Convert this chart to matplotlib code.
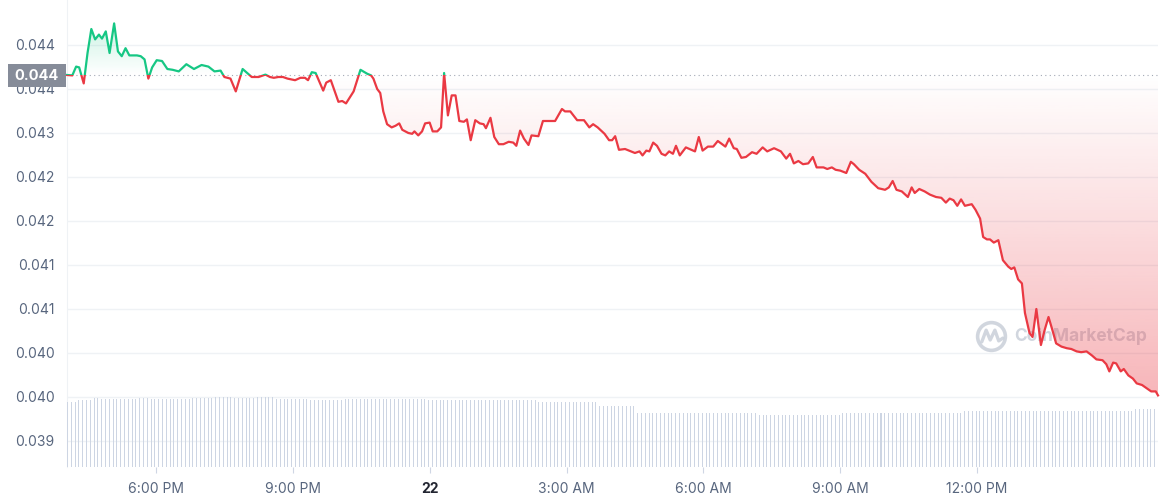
import matplotlib
matplotlib.use('Agg')
import matplotlib.pyplot as plt
import matplotlib.transforms as mtransforms
from matplotlib.patches import Rectangle
from matplotlib.path import Path
from matplotlib.ticker import FormatStrFormatter
import numpy as np

plt.rcParams['font.family'] = ['Inter', 'DejaVu Sans']

'''Data'''
# minutes after 16:00 on the 21st
minutes = [3, 10, 15, 19, 25, 30, 35, 40, 45, 49,
           54, 59, 65, 70, 75, 80, 85, 95, 100, 105,
           110, 115, 121, 128, 135, 142, 150, 160, 170, 180,
           189, 197, 205, 210, 218, 225, 234, 246, 255, 264,
           270, 275, 281, 287, 293, 303, 310, 316, 320, 325,
           330, 340, 344, 350, 360, 365, 370, 380, 389, 398,
           403, 406, 411, 415, 419, 424, 430, 435, 440, 444,
           452, 457, 460, 465, 470, 474, 480, 484, 490, 495,
           499, 504, 509, 514, 519, 525, 529, 534, 540, 546,
           551, 554, 560, 565, 571, 577, 584, 590, 594, 599,
           604, 610, 614, 623, 629, 645, 654, 658, 665, 674,
           683, 690, 695, 701, 710, 716, 720, 724, 729, 737,
           745, 750, 756, 760, 765, 769, 774, 779, 785, 790,
           795, 800, 804, 809, 817, 829, 834, 839, 846, 853,
           859, 869, 874, 880, 884, 890, 896, 904, 910, 918,
           924, 933, 942, 949, 954, 959, 965, 971, 978, 984,
           989, 998, 1003, 1009, 1014, 1020, 1028, 1034, 1038, 1045,
           1053, 1061, 1070, 1079, 1084, 1089, 1094, 1101, 1109, 1114,
           1118, 1124, 1131, 1138, 1146, 1153, 1159, 1164, 1169, 1174,
           1179, 1184, 1193, 1198, 1204, 1208, 1213, 1217, 1222, 1228,
           1234, 1241, 1245, 1249, 1254, 1259, 1263, 1269, 1273, 1278,
           1284, 1289, 1294, 1299, 1304, 1311, 1318, 1324, 1331, 1337,
           1344, 1351, 1357, 1365, 1370, 1374, 1379, 1383, 1389, 1393,
           1399, 1405, 1410, 1417, 1423, 1429, 1435, 1438]

prices = [0.043725, 0.04372, 0.04383, 0.04382, 0.04362, 0.04400, 0.04430, 0.04417, 0.04423, 0.04418,
          0.04427, 0.04400, 0.04437, 0.04402, 0.04396, 0.04406, 0.04397, 0.04397, 0.04396, 0.04392,
          0.04368, 0.04382, 0.04391, 0.04390, 0.04380, 0.04379, 0.04377, 0.04386, 0.04380, 0.04385,
          0.04383, 0.04377, 0.04378, 0.04370, 0.04368, 0.04352, 0.04380, 0.04370, 0.04370, 0.04373,
          0.04370, 0.04369, 0.04370, 0.04370, 0.04368, 0.04366, 0.04369, 0.04369, 0.04366, 0.04376,
          0.04375, 0.04353, 0.04363, 0.04366, 0.04339, 0.04340, 0.04337, 0.04352, 0.04379, 0.04374,
          0.04372, 0.04368, 0.04355, 0.04350, 0.04327, 0.04311, 0.04307, 0.04309, 0.04312, 0.04304,
          0.04300, 0.04299, 0.04302, 0.04297, 0.04302, 0.04312, 0.04313, 0.04302, 0.04302, 0.04307,
          0.04375, 0.04322, 0.04347, 0.04347, 0.04315, 0.04314, 0.04317, 0.04291, 0.04316, 0.04312,
          0.04311, 0.04306, 0.04319, 0.04295, 0.04286, 0.04286, 0.04289, 0.04288, 0.04284, 0.04303,
          0.04293, 0.04285, 0.04297, 0.04296, 0.04315, 0.04315, 0.04330, 0.04327, 0.04327, 0.04316,
          0.04316, 0.04307, 0.04311, 0.04307, 0.04299, 0.04291, 0.04291, 0.04296, 0.04279, 0.04280,
          0.04277, 0.04275, 0.04277, 0.04272, 0.04278, 0.04277, 0.04288, 0.04284, 0.04274, 0.04272,
          0.04277, 0.04274, 0.04284, 0.04272, 0.04282, 0.04277, 0.04295, 0.04278, 0.04283, 0.04283,
          0.04290, 0.04283, 0.04293, 0.04281, 0.04280, 0.04269, 0.04270, 0.04276, 0.04274, 0.04282,
          0.04277, 0.04281, 0.04277, 0.04268, 0.04274, 0.04262, 0.04265, 0.04261, 0.04262, 0.04270,
          0.04257, 0.04257, 0.04255, 0.04257, 0.04254, 0.04253, 0.04250, 0.04264, 0.04261, 0.04254,
          0.04249, 0.04239, 0.04231, 0.04229, 0.04232, 0.04240, 0.04229, 0.04227, 0.04220, 0.04232,
          0.04225, 0.04230, 0.04227, 0.04223, 0.04220, 0.04219, 0.04213, 0.04218, 0.04216, 0.04209,
          0.04217, 0.04209, 0.04211, 0.04204, 0.04193, 0.04170, 0.04167, 0.04167, 0.04163, 0.04166,
          0.04141, 0.04133, 0.04130, 0.04132, 0.04117, 0.04112, 0.04075, 0.04050, 0.04045, 0.04080,
          0.04035, 0.04054, 0.04070, 0.04054, 0.04037, 0.04033, 0.04031, 0.04030, 0.04027, 0.04026,
          0.04027, 0.04022, 0.04017, 0.04016, 0.04011, 0.04002, 0.04013, 0.04012, 0.04002, 0.04005,
          0.03997, 0.03993, 0.03987, 0.03985, 0.03981, 0.03977, 0.03977, 0.03972]

# 24h volume, one bar every 5 minutes (runs of equal height)
vol_levels = [6.5, 6.7, 6.9, 6.8, 6.9, 6.8, 6.9, 7.0, 6.9, 7.0, 6.8,
              6.7, 6.8, 6.7, 6.5, 6.1, 5.4, 5.2, 5.4, 5.6, 5.8]
vol_runs = [3, 4, 2, 10, 3, 11, 6, 5, 6, 5, 9,
            9, 22, 29, 16, 10, 32, 22, 32, 45, 7]

tick_hours = [18, 21, 24, 27, 30, 33, 36]
tick_labels = ['6:00 PM', '9:00 PM', '22', '3:00 AM', '6:00 AM', '9:00 AM', '12:00 PM']
price_ticks = [0.03915, 0.0397, 0.04025, 0.0408, 0.04135, 0.0419, 0.04245, 0.043, 0.04355, 0.0441]

GREEN = '#16c784'
RED = '#ea3943'
GREY = '#58667e'

t = 16 + np.array(minutes) / 60.0
p = np.array(prices)
ref = p[0]
volume = np.repeat(vol_levels, vol_runs)
vol_t = 16 + (minutes[0] + 5 * np.arange(len(volume))) / 60.0

ymin, ymax = 0.038825, 0.0446625
x0, x1 = t[0], t[-1]

'''Plot'''
fig = plt.figure(figsize=(11.61, 5.0), dpi=100)
rect = [67 / 1161, 33 / 500, 1091 / 1161, 467 / 500]
ax = fig.add_axes(rect)

# gradient fills between price and the opening price
poly = ax.fill_between(t, p, ref, facecolor='none', edgecolor='none')
clip = Path.make_compound_path(*poly.get_paths())

g = np.zeros((256, 1, 4))
g[:, 0, :3] = matplotlib.colors.to_rgb(GREEN)
g[:, 0, 3] = np.linspace(0.0, 0.22, 256)
im_g = ax.imshow(g, extent=[x0, x1, ref, p.max()], origin='lower', aspect='auto', zorder=1.5)
im_g.set_clip_path(clip, transform=ax.transData)

r = np.zeros((256, 1, 4))
r[:, 0, :3] = matplotlib.colors.to_rgb(RED)
r[:, 0, 3] = np.linspace(0.37, 0.0, 256)
im_r = ax.imshow(r, extent=[x0, x1, p.min(), ref], origin='lower', aspect='auto', zorder=1.5)
im_r.set_clip_path(clip, transform=ax.transData)

# line: green above the opening price, red below
up, = ax.plot(t, p, color=GREEN, lw=1.6, zorder=3, solid_joinstyle='round')
up.set_clip_path(Rectangle((x0 - 1, ref), x1 - x0 + 2, 1, transform=ax.transData))
down, = ax.plot(t, p, color=RED, lw=1.6, zorder=3, solid_joinstyle='round')
down.set_clip_path(Rectangle((x0 - 1, ref - 1), x1 - x0 + 2, 1, transform=ax.transData))

ax.axhline(ref, color='#a3a9b5', lw=0.8, ls=(0, (1, 3)), zorder=2)

# opening price label on the axis
trans = mtransforms.blended_transform_factory(ax.transAxes, ax.transData)
ax.add_patch(Rectangle((-0.0541, ref - 0.000148), 0.0532, 0.000288, transform=trans,
                       facecolor='#868c99', edgecolor='none', clip_on=False, zorder=5))
ax.text(-0.0275, ref - 0.00001, '%.3f' % ref, transform=trans, ha='center', va='center',
        color='white', fontsize=10.5, fontweight='bold', zorder=6, clip_on=False)

# watermark
wm = '#c9cfd9'
ax.text(0.8685, 0.279, 'CoinMarketCap', transform=ax.transAxes, fontsize=12.5,
        fontweight='bold', color=wm, va='center', ha='left', zorder=1, alpha=0.85)
ax.plot([0.8465], [0.281], marker='o', ms=20, mfc='none', mec=wm, mew=2.6,
        transform=ax.transAxes, zorder=1, alpha=0.85)
ax.plot([0.8385, 0.8425, 0.8462, 0.8505, 0.8540, 0.8578],
        [0.2680, 0.2930, 0.2720, 0.2930, 0.2700, 0.2760],
        color=wm, lw=2.4, transform=ax.transAxes, zorder=1, alpha=0.85,
        solid_joinstyle='round', solid_capstyle='round')

ax.set_xlim(x0, x1)
ax.set_ylim(ymin, ymax)
ax.set_yticks(price_ticks)
ax.yaxis.set_major_formatter(FormatStrFormatter('%.3f'))
ax.set_xticks(tick_hours)
ax.set_xticklabels(tick_labels)
ax.tick_params(axis='y', length=0, pad=9, labelsize=10, labelcolor=GREY)
ax.tick_params(axis='x', length=4, width=0.8, color='#cfd6e4', pad=7, labelsize=10, labelcolor=GREY)
lab = ax.get_xticklabels()[2]
lab.set_fontweight('bold')
lab.set_color('#222531')
ax.grid(axis='y', color='#eff2f5', lw=1)
ax.set_axisbelow(True)
for s in ['top', 'right', 'bottom']:
    ax.spines[s].set_visible(False)
ax.spines['left'].set_color('#eff2f5')

# volume bars on their own axes
axv = fig.add_axes(rect, sharex=ax)
axv.patch.set_visible(False)
axv.bar(vol_t, volume, width=0.022, align='edge', color='#cdd5e3', lw=0)
axv.set_ylim(0, 46.7)
axv.axis('off')

fig.savefig('out.png', dpi=100)
